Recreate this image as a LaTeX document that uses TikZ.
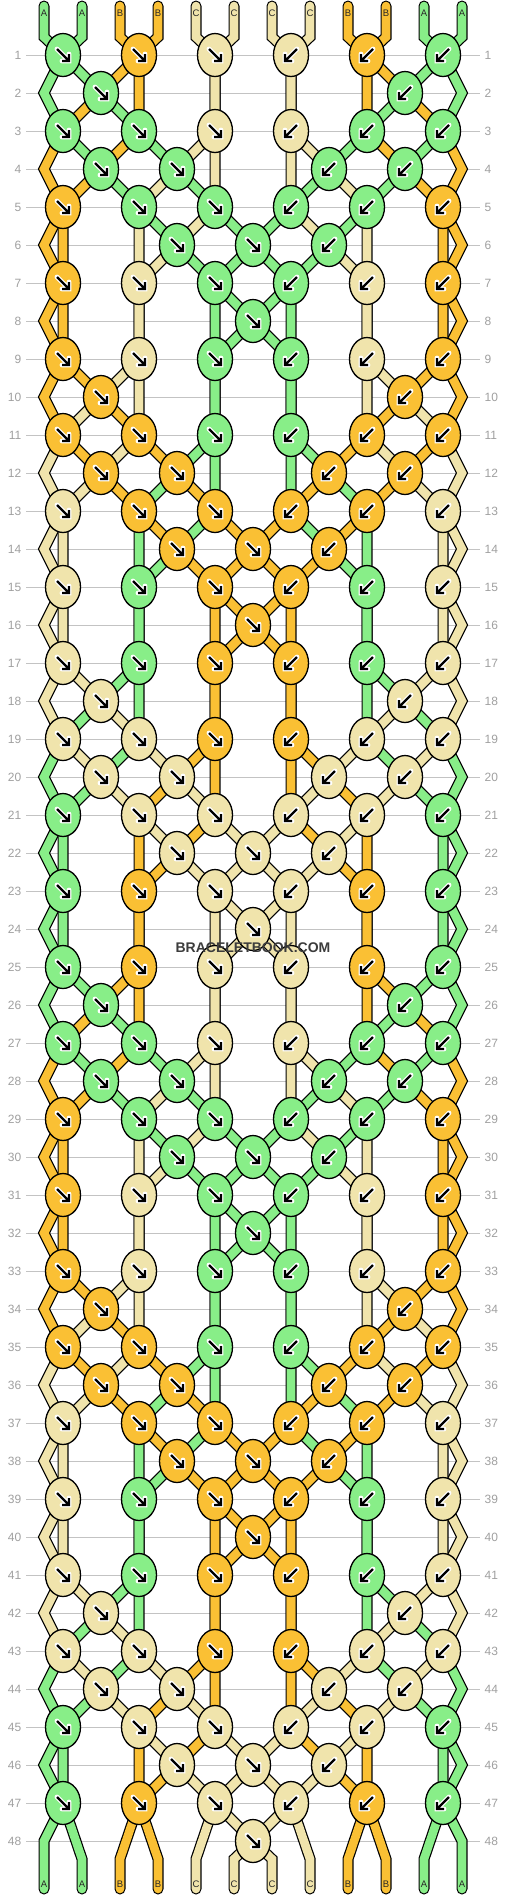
\documentclass[tikz,border=0pt]{standalone}
\usepackage{fontspec}
\setmainfont{Liberation Sans}
\usetikzlibrary{shapes.geometric}
\definecolor{cgrn}{RGB}{136,238,136}
\definecolor{corg}{RGB}{250,192,52}
\definecolor{ccrm}{RGB}{240,228,172}
\definecolor{gridgray}{RGB}{195,195,195}
\definecolor{numgray}{RGB}{160,160,160}
\definecolor{lblgray}{RGB}{40,40,40}
\definecolor{wmgray}{RGB}{60,60,60}
\tikzset{
  knotbox/.style={ellipse, draw=black, line width=1.3pt, minimum width=35pt, minimum height=43pt, inner sep=0pt},
  strout/.style={line width=11pt, draw=black, line cap=round},
  strin/.style={line width=8.6pt, line cap=round},
  arrhalo/.style={draw=white, line width=4.8pt, line cap=round},
  arrcore/.style={draw=black, line width=2.4pt},
  rowline/.style={draw=gridgray, line width=1pt},
  rownum/.style={text=numgray, font=\fontsize{12}{12}\selectfont, inner sep=0pt},
  strlbl/.style={text=lblgray, font=\fontsize{9.5}{9.5}\selectfont, inner sep=0pt},
  wmark/.style={text=wmgray, font=\bfseries\fontsize{14}{14}\selectfont, inner sep=0pt},
}
\makeatletter
\def\setpos#1#2{\expandafter\xdef\csname kpos@#1\endcsname{#2}}
\def\getpos#1{\csname kpos@#1\endcsname}
\def\addpt#1#2{\expandafter\xdef\csname kpath@#1\endcsname{\csname kpath@#1\endcsname -- #2}}
\def\doknot#1#2#3#4#5{%
  \edef\sL{\getpos{#3}}\edef\sR{\getpos{#4}}%
  \ifnum#5=0 \edef\kc{\csname scol@\sL\endcsname}\else\edef\kc{\csname scol@\sR\endcsname}\fi
  \xdef\knotlist{\unexpanded\expandafter{\knotlist}\noexpand\knot{#1}{#2}{\kc}{#5}}%
  \addpt{\sL}{(#1,#2)}\addpt{\sR}{(#1,#2)}%
  \setpos{#3}{\sR}\setpos{#4}{\sL}}
\def\knot#1#2#3#4{%
  \node[knotbox, fill=#3] (k-#1-#2) at (#1,#2) {};
  \ifnum#4=0
    \draw[arrhalo] (#1-6,#2-6) -- (#1+6,#2+6) (#1+6,#2-1) -- (#1+6,#2+6) -- (#1-1,#2+6);
    \draw[arrcore] (#1-6,#2-6) -- (#1+6,#2+6) (#1+6,#2-1) -- (#1+6,#2+6) -- (#1-1,#2+6);
  \else
    \draw[arrhalo] (#1+6,#2-6) -- (#1-6,#2+6) (#1-6,#2-1) -- (#1-6,#2+6) -- (#1+1,#2+6);
    \draw[arrcore] (#1+6,#2-6) -- (#1-6,#2+6) (#1-6,#2-1) -- (#1-6,#2+6) -- (#1+1,#2+6);
  \fi}
\makeatother
\begin{document}
\begin{tikzpicture}[x=1pt,y=-1pt]
\fill[white] (0,0) rectangle (506,1896);
\useasboundingbox (0,0) rectangle (506,1896);
% row lines and numbers
\foreach \r in {1,...,48}{%
  \edef\yy{\the\numexpr55+38*(\r-1)\relax}%
  \draw[rowline] (26,\yy) -- (480,\yy);
  \node[rownum, anchor=east] (nl-\r) at (21.5,\yy) {\r};
  \node[rownum, anchor=west] (nr-\r) at (484.5,\yy) {\r};
}
% string colours and start
\gdef\knotlist{}
\foreach \s/\cc/\L in {0/cgrn/A,1/cgrn/A,2/corg/B,3/corg/B,4/ccrm/C,5/ccrm/C,6/ccrm/C,7/ccrm/C,8/corg/B,9/corg/B,10/cgrn/A,11/cgrn/A}{%
  \expandafter\xdef\csname scol@\s\endcsname{\cc}%
  \expandafter\xdef\csname slbl@\s\endcsname{\L}%
  \edef\xx{\the\numexpr44+38*\s\relax}%
  \setpos{\s}{\s}%
  \expandafter\xdef\csname kpath@\s\endcsname{(\xx,6) -- (\xx,37)}%
}
% simulate the knotting
\foreach \r in {1,...,48}{%
  \edef\yy{\the\numexpr55+38*(\r-1)\relax}%
  \ifodd\r\relax
    \foreach \c in {0,...,5}{%
      \edef\xx{\the\numexpr63+76*\c\relax}%
      \ifnum\c<3 \def\dd{0}\else\def\dd{1}\fi
      \edef\lA{\the\numexpr2*\c\relax}\edef\lB{\the\numexpr2*\c+1\relax}%
      \doknot{\xx}{\yy}{\lA}{\lB}{\dd}%
    }%
  \else
    \addpt{\getpos{0}}{(44,\yy)}\addpt{\getpos{11}}{(462,\yy)}%
    \pgfmathtruncatemacro\mm{mod(\r,8)}%
    \ifcase\mm\relax \def\slots{2}\or\or\def\slots{0,4}\or\or\def\slots{0,1,3,4}\or\or\def\slots{1,2,3}\fi
    \foreach \c in \slots{%
      \edef\xx{\the\numexpr101+76*\c\relax}%
      \ifnum\c<3 \def\dd{0}\else\def\dd{1}\fi
      \edef\lA{\the\numexpr2*\c+1\relax}\edef\lB{\the\numexpr2*\c+2\relax}%
      \doknot{\xx}{\yy}{\lA}{\lB}{\dd}%
    }%
  \fi
}
% tails
\foreach \p in {0,...,11}{%
  \edef\xx{\the\numexpr44+38*\p\relax}%
  \addpt{\getpos{\p}}{(\xx,1859) -- (\xx,1889)}%
}
% strings
\foreach \s in {0,...,11}{%
  \edef\tmp{\noexpand\draw[strout] \csname kpath@\s\endcsname;}\tmp}
\foreach \s in {0,...,11}{%
  \edef\tmp{\noexpand\draw[strin, draw=\csname scol@\s\endcsname] \csname kpath@\s\endcsname;}\tmp}
% knots
\knotlist
% labels
\foreach \s/\L in {0/A,1/A,2/B,3/B,4/C,5/C,6/C,7/C,8/B,9/B,10/A,11/A}{%
  \edef\xx{\the\numexpr44+38*\s\relax}%
  \node[strlbl] (lt-\s) at (\xx,13) {\L};
  \node[strlbl] (lb-\s) at (\xx,1884) {\L};
}
\node[wmark] (wm) at (253,948) {BRACELETBOOK.COM};
\end{tikzpicture}
\end{document}
